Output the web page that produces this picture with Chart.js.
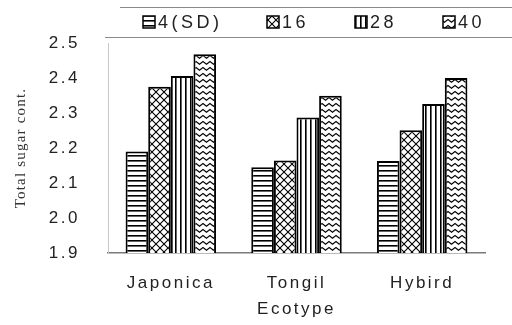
<!DOCTYPE html>
<html>
<head>
<meta charset="utf-8">
<script src="https://cdn.jsdelivr.net/npm/chart.js@4.4.1/dist/chart.umd.min.js"></script>
<style>
  html, body { margin: 0; padding: 0; background: #fff; }
  #wrap { width: 512px; height: 325px; }
</style>
</head>
<body>
<div id="wrap"><canvas id="c" width="512" height="325"></canvas></div>
<script>
const categories = ['Japonica', 'Tongil', 'Hybird'];
const seriesNames = ['4(SD)', '16', '28', '40'];
const sd4 = [2.19, 2.145, 2.163];
const d16 = [2.375, 2.164, 2.251];
const d28 = [2.406, 2.287, 2.326];
const d40 = [2.468, 2.349, 2.40];
const yTicks = [1.9, 2.0, 2.1, 2.2, 2.3, 2.4, 2.5];
const yTitle = 'Total sugar cont.';
const xTitle = 'Ecotype';

function tile(w, h, draw) {
  const c = document.createElement('canvas');
  c.width = w; c.height = h;
  const x = c.getContext('2d');
  x.fillStyle = '#fff';
  x.fillRect(0, 0, w, h);
  x.strokeStyle = '#000';
  x.fillStyle = '#000';
  draw(x);
  return document.createElement('canvas').getContext('2d').createPattern(c, 'repeat');
}
const patHoriz = tile(8, 5, x => { x.fillRect(0, 0, 8, 1.6); });
const patCross = tile(8, 8, x => {
  x.lineWidth = 1.1;
  x.beginPath();
  x.moveTo(-1, -1); x.lineTo(9, 9);
  x.moveTo(9, -1); x.lineTo(-1, 9);
  x.stroke();
});
const patVert = tile(5, 5, x => { x.fillRect(0, 0, 1.6, 5); });
const patWave = tile(7, 6, x => {
  x.lineWidth = 1.2;
  x.beginPath();
  x.moveTo(-0.5, 1); x.lineTo(3.5, 4.2); x.lineTo(7.5, 1);
  x.stroke();
});
const patterns = [patHoriz, patCross, patVert, patWave];
const seriesData = [sd4, d16, d28, d40];

const LS = '2.5px';
const spacingPlugin = {
  id: 'spacing',
  beforeLayout(chart) { chart.ctx.letterSpacing = LS; },
  beforeDraw(chart) { chart.ctx.letterSpacing = LS; },
  afterDraw(chart) {
    const ctx = chart.ctx;
    ctx.save();
    // legend frame lines
    ctx.strokeStyle = '#8a8a8a';
    ctx.lineWidth = 1;
    ctx.beginPath();
    ctx.moveTo(120, 7.5); ctx.lineTo(512, 7.5);
    ctx.moveTo(105, 37.5); ctx.lineTo(512, 37.5);
    ctx.stroke();
    const boxX = [143, 267, 355, 443];
    ctx.font = '18px "Liberation Sans", Arial, sans-serif';
    ctx.letterSpacing = '3.5px';
    ctx.textBaseline = 'middle';
    seriesNames.forEach((n, i) => {
      const bx = boxX[i];
      ctx.fillStyle = patterns[i];
      ctx.fillRect(bx, 16, 12, 12);
      ctx.strokeStyle = '#000';
      ctx.lineWidth = 1.5;
      ctx.strokeRect(bx, 16, 12, 12);
      ctx.fillStyle = '#222';
      ctx.fillText(n, bx + 15, 23);
    });
    // y axis title
    ctx.translate(21, 148);
    ctx.rotate(-Math.PI / 2);
    ctx.font = '15px "Liberation Serif", "Times New Roman", serif';
    ctx.letterSpacing = '1.2px';
    ctx.textAlign = 'center';
    ctx.fillStyle = '#333';
    ctx.fillText(yTitle, 0, 0);
    ctx.restore();
  }
};

new Chart(document.getElementById('c'), {
  type: 'bar',
  data: {
    labels: categories,
    datasets: seriesNames.map((n, i) => ({
      label: n,
      data: seriesData[i],
      backgroundColor: patterns[i],
      borderColor: '#000',
      borderWidth: 2,
      borderSkipped: false,
      categoryPercentage: 0.72,
      barPercentage: 1.0
    }))
  },
  options: {
    responsive: false,
    animation: false,
    devicePixelRatio: 1,
    layout: { padding: { top: 43, right: 27, bottom: 3, left: 0 } },
    plugins: { legend: { display: false }, tooltip: { enabled: false } },
    scales: {
      x: {
        grid: { display: false, drawTicks: false },
        border: { display: true, color: '#7a7a7a', width: 1.5 },
        ticks: { padding: 20, color: '#222', font: { family: '"Liberation Sans", Arial, sans-serif', size: 17 } },
        title: { display: true, text: xTitle, color: '#222', padding: { top: 2, bottom: 2 },
                 font: { family: '"Liberation Sans", Arial, sans-serif', size: 17 } },
        afterFit(s) { s.height = 69; }
      },
      y: {
        min: 1.9, max: 2.5,
        afterBuildTicks(s) { s.ticks = yTicks.map(v => ({ value: v })); },
        grid: { display: false, drawTicks: false },
        border: { display: true, color: '#c8c8c8', dash: [2, 3] },
        ticks: {
          padding: 28, color: '#222',
          font: { family: '"Liberation Sans", Arial, sans-serif', size: 17 },
          callback: v => Number(v).toFixed(1)
        },
        title: { display: false },
        afterFit(s) { s.width = 108; }
      }
    }
  },
  plugins: [spacingPlugin]
});
</script>
</body>
</html>
